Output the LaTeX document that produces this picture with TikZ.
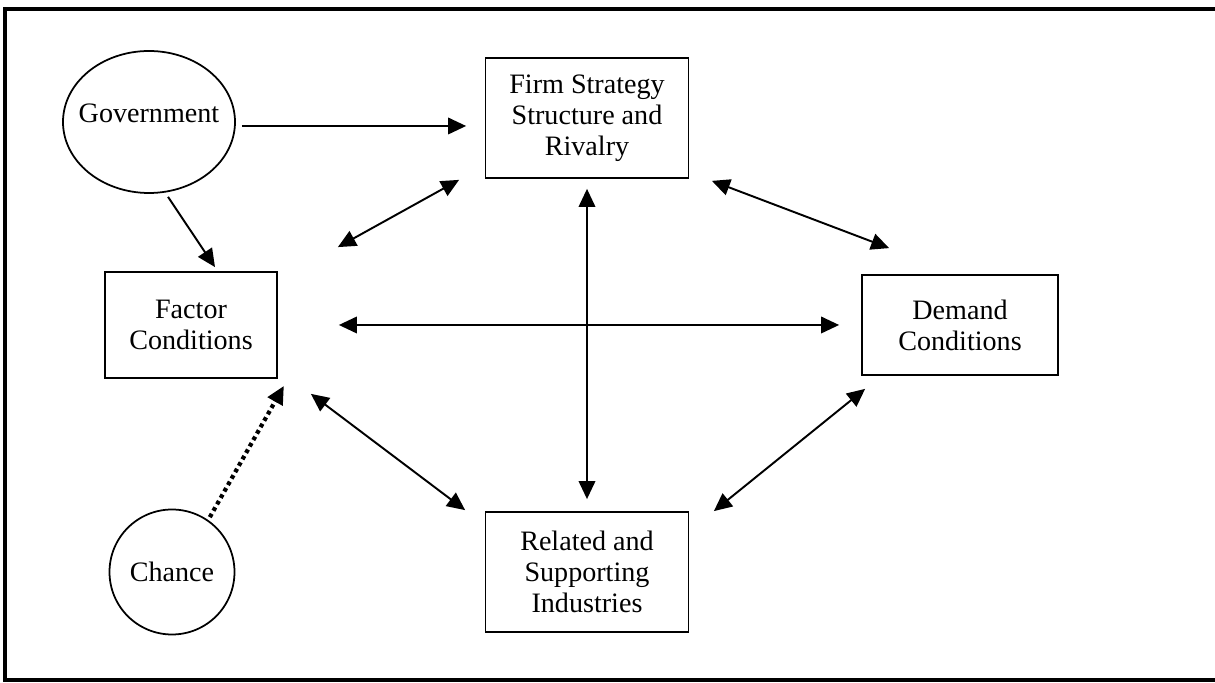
\documentclass[tikz,border=0pt]{standalone}
\usepackage{fontspec}
\setmainfont{Liberation Serif}
\usetikzlibrary{arrows.meta,shapes.geometric}

\begin{document}
\begin{tikzpicture}[
        font=\fontsize{16}{17.6}\selectfont,
        box/.style={draw, line width=1pt, align=center, inner sep=2pt},
        bubble/.style={draw, line width=1pt, inner sep=0pt},
        link/.style={line width=1.1pt, -{Triangle[length=3.6mm,width=3.3mm]}},
        both/.style={line width=1.1pt, {Triangle[length=3.6mm,width=3.3mm]}-{Triangle[length=3.6mm,width=3.3mm]}},
        luck/.style={line width=2.4pt, dash pattern=on 2.2pt off 2pt, -{Triangle[length=3.6mm,width=3.3mm]}}
    ]
        \useasboundingbox (0,0) rectangle (24.3,13.66);
        \draw[line width=2.2pt] (24.3,13.48) -- (0.1,13.48) -- (0.1,0.06) -- (24.3,0.06);

        \node[bubble,ellipse,minimum width=3.44cm,minimum height=2.84cm] at (2.98,11.22) (gov) {};
        \node at ([yshift=0.18cm]gov.center) (govtext) {Government};
        \node[bubble,circle,minimum size=2.5cm] at (3.44,2.22) (chance) {Chance};
        \node[box,minimum width=4.06cm,minimum height=2.4cm] at (11.74,11.30) (firm) {Firm Strategy\\Structure and\\Rivalry};
        \node[box,minimum width=3.44cm,minimum height=2.12cm] at (3.82,7.16) (fac) {Factor\\Conditions};
        \node[box,minimum width=3.92cm,minimum height=2.0cm] at (19.2,7.16) (dem) {Demand\\Conditions};
        \node[box,minimum width=4.06cm,minimum height=2.4cm] at (11.74,2.22) (rel) {Related and\\Supporting\\Industries};

        \draw[link] ([shift={(0.12,-0.08)}]gov.east) -- ([shift={(-0.37,-0.16)}]firm.west);
        \draw[link] ([shift={(0.38,-0.06)}]gov.south) -- ([shift={(0.48,0.08)}]fac.north);
        \draw[both] ([shift={(1.20,0.48)}]fac.north east) -- ([shift={(-0.51,-0.02)}]firm.south west);
        \draw[both] ([shift={(0.45,-0.04)}]firm.south east) -- ([shift={(0.56,0.52)}]dem.north west);
        \draw[both] ([xshift=1.22cm]fac.east) -- ([xshift=-0.44cm]dem.west);
        \draw[both] ([yshift=-0.2cm]firm.south) -- ([yshift=0.24cm]rel.north);
        \draw[both] ([shift={(0.66,-0.30)}]fac.south east) -- ([shift={(-0.39,0.02)}]rel.north west);
        \draw[both] ([shift={(0.08,-0.26)}]dem.south west) -- ([shift={(0.49,0)}]rel.north east);
        \draw[luck] ([shift={(-0.14,0.20)}]chance.north east) -- ([shift={(0.12,-0.14)}]fac.south east);
    \end{tikzpicture}
\end{document}
